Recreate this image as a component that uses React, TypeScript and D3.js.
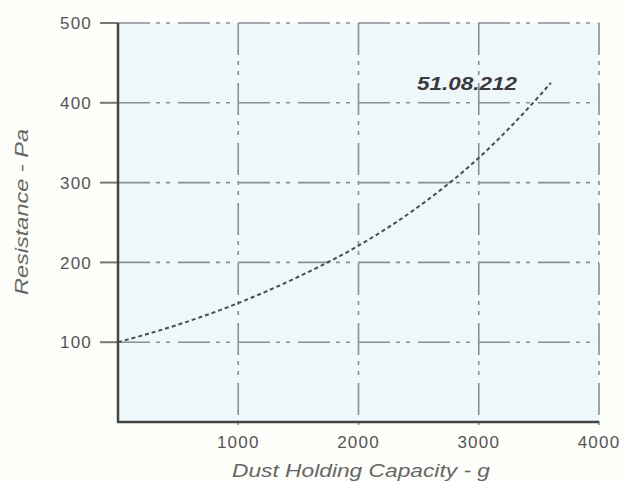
import React from "react";
import * as d3 from "d3";

const capacity = [0, 500, 1000, 1500, 2000, 2500, 3000, 3500, 3600];
const resistance = [100, 122, 149, 182, 221, 270, 331, 408, 425];
const xTicks = [1000, 2000, 3000, 4000];
const yTicks = [100, 200, 300, 400, 500];
const xGrid = [1000, 2000, 3000, 4000];
const yGrid = [100, 200, 300, 400, 500];
const curveLabel = "51.08.212";

const W = 625;
const H = 482;
const m = { left: 118, right: 26, top: 23, bottom: 60 };

export default function App() {
  const x = d3.scaleLinear().domain([0, 4000]).range([m.left, W - m.right]);
  const y = d3.scaleLinear().domain([0, 500]).range([H - m.bottom, m.top]);
  const pts = capacity.map((c, i) => [c, resistance[i]] as [number, number]);
  const line = d3
    .line<[number, number]>()
    .x((d) => x(d[0]))
    .y((d) => y(d[1]))
    .curve(d3.curveMonotoneX);
  const gridDash = "32 6 4 6 4 8";
  const font = "'Liberation Sans', Arial, sans-serif";
  return (
    <svg
      width={W}
      height={H}
      style={{ position: "absolute", left: 0, top: 0 }}
      fontFamily={font}
    >
      <rect x={0} y={0} width={W} height={H} fill="#fdfdf9" />
      <rect
        x={x(0)}
        y={y(500)}
        width={x(4000) - x(0)}
        height={y(0) - y(500)}
        fill="#eef7fa"
      />
      {xGrid.map((v) => (
        <line
          key={"gx" + v}
          x1={x(v)}
          x2={x(v)}
          y1={y(500)}
          y2={y(0) + 4}
          stroke="#8a8f92"
          strokeWidth={1.6}
          strokeDasharray={gridDash}
        />
      ))}
      {yGrid.map((v) => (
        <line
          key={"gy" + v}
          x1={x(0)}
          x2={x(4000)}
          y1={y(v)}
          y2={y(v)}
          stroke="#8a8f92"
          strokeWidth={1.6}
          strokeDasharray={gridDash}
        />
      ))}
      {yTicks.map((v) => (
        <g key={"ty" + v}>
          <line
            x1={x(0) - 18}
            x2={x(0)}
            y1={y(v)}
            y2={y(v)}
            stroke="#777"
            strokeWidth={2}
          />
          <text
            x={x(0) - 26}
            y={y(v)}
            dy="0.36em"
            textAnchor="end"
            fontSize={17}
            letterSpacing={1.2}
            fill="#555"
          >
            {v}
          </text>
        </g>
      ))}
      {xTicks.map((v) => (
        <text
          key={"tx" + v}
          x={x(v)}
          y={y(0) + 26}
          textAnchor="middle"
          fontSize={17}
          letterSpacing={1.2}
          fill="#555"
        >
          {v}
        </text>
      ))}
      <line
        x1={x(0)}
        x2={x(0)}
        y1={y(500)}
        y2={y(0)}
        stroke="#444"
        strokeWidth={2.5}
      />
      <line
        x1={x(0) - 1}
        x2={x(4000)}
        y1={y(0)}
        y2={y(0)}
        stroke="#444"
        strokeWidth={2.5}
      />
      <path
        d={line(pts) || ""}
        fill="none"
        stroke="#4a4d50"
        strokeWidth={2}
        strokeDasharray="4 3"
      />
      <text
        x={467}
        y={90}
        textAnchor="middle"
        fontSize={18}
        fontWeight="bold"
        fontStyle="italic"
        fill="#3a3a3a"
        textLength={100}
        lengthAdjust="spacingAndGlyphs"
      >
        {curveLabel}
      </text>
      <text
        x={361}
        y={477}
        textAnchor="middle"
        fontSize={18}
        fontStyle="italic"
        fill="#666"
        textLength={258}
        lengthAdjust="spacingAndGlyphs"
      >
        Dust Holding Capacity - g
      </text>
      <text
        transform={`translate(28, 212) rotate(-90)`}
        textAnchor="middle"
        fontSize={18}
        fontStyle="italic"
        fill="#666"
        textLength={166}
        lengthAdjust="spacingAndGlyphs"
      >
        Resistance - Pa
      </text>
    </svg>
  );
}
